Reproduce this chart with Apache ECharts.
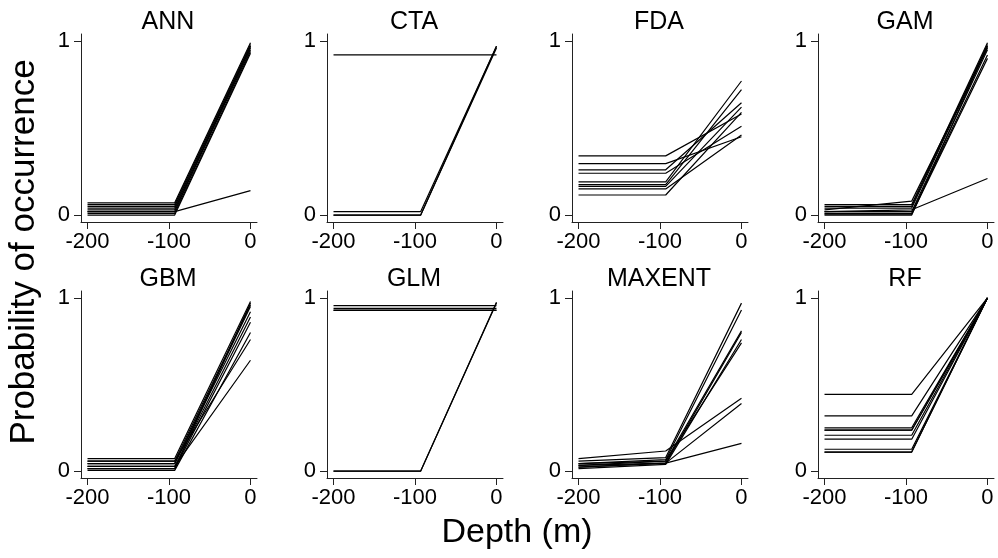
<!DOCTYPE html>
<html>
<head>
<meta charset="utf-8">
<script src="https://cdn.jsdelivr.net/npm/echarts@6/dist/echarts.min.js"></script>
<style>
  html, body { margin: 0; padding: 0; background: #fff; }
  #chart { width: 998px; height: 558px; }
</style>
</head>
<body>
<div id="chart"></div>
<script>
// depth values where each curve is evaluated
var depth = [-200, -93, 0];
var xTicks = [-200, -100, 0];
var yTicks = [0, 1];
var models = ['ANN', 'CTA', 'FDA', 'GAM', 'GBM', 'GLM', 'MAXENT', 'RF'];

// probability at each depth, one row per replicate
var annLines = [
  [0.07, 0.07, 0.99], [0.06, 0.06, 0.98], [0.05, 0.05, 0.97], [0.04, 0.04, 0.96],
  [0.03, 0.03, 0.95], [0.02, 0.02, 0.97], [0.01, 0.01, 0.94], [0.00, 0.00, 0.93],
  [0.02, 0.02, 0.14]
];
var ctaLines = [
  [0.92, 0.92, 0.92], [0.02, 0.02, 0.97], [0.00, 0.00, 0.97], [0.00, 0.00, 0.96]
];
var fdaLines = [
  [0.34, 0.34, 0.58], [0.295, 0.295, 0.45], [0.26, 0.26, 0.645], [0.24, 0.24, 0.51],
  [0.19, 0.19, 0.77], [0.175, 0.175, 0.72], [0.165, 0.165, 0.62], [0.15, 0.15, 0.46],
  [0.115, 0.115, 0.59]
];
var gamLines = [
  [0.06, 0.06, 0.99], [0.05, 0.05, 0.98], [0.04, 0.04, 0.97], [0.03, 0.08, 0.96],
  [0.02, 0.02, 0.95], [0.01, 0.01, 0.92], [0.005, 0.005, 0.90], [0.00, 0.00, 0.97],
  [0.02, 0.03, 0.21]
];
var gbmLines = [
  [0.072, 0.072, 0.98], [0.058, 0.058, 0.96], [0.043, 0.043, 0.92], [0.027, 0.027, 0.89],
  [0.014, 0.014, 0.86], [0.004, 0.004, 0.80], [0.058, 0.058, 0.76], [0.027, 0.027, 0.64],
  [0.043, 0.043, 0.95], [0.014, 0.014, 0.97]
];
var glmLines = [
  [0.955, 0.955, 0.955], [0.94, 0.94, 0.94], [0.93, 0.93, 0.93], [0.928, 0.928, 0.928],
  [0.00, 0.00, 0.975], [0.00, 0.00, 0.97]
];
var maxentLines = [
  [0.072, 0.116, 0.42], [0.058, 0.078, 0.97], [0.043, 0.066, 0.93], [0.033, 0.058, 0.81],
  [0.023, 0.046, 0.80], [0.014, 0.039, 0.76], [0.043, 0.058, 0.74], [0.023, 0.046, 0.39],
  [0.033, 0.046, 0.16]
];
var rfLines = [
  [0.443, 0.443, 1.0], [0.319, 0.319, 1.0], [0.25, 0.25, 1.0], [0.236, 0.236, 1.0],
  [0.236, 0.236, 1.0], [0.207, 0.207, 1.0], [0.184, 0.184, 1.0], [0.126, 0.126, 1.0],
  [0.11, 0.11, 1.0], [0.11, 0.11, 1.0]
];
var panelLines = [annLines, ctaLines, fdaLines, gamLines, gbmLines, glmLines, maxentLines, rfLines];

var FONT = '"Liberation Sans", Arial, Helvetica, sans-serif';
var lefts = [81, 327, 572, 818];
var tops = [34, 291];
var W = 176, H = 188;

var grids = [], xAxes = [], yAxes = [], titles = [], series = [];

models.forEach(function (name, i) {
  var col = i % 4, row = Math.floor(i / 4);
  grids.push({ left: lefts[col], top: tops[row], width: W, height: H - row });

  xAxes.push({
    gridIndex: i, type: 'value', min: -208, max: 8,
    axisLine: { show: true, onZero: false, lineStyle: { color: '#222', width: 1 } },
    axisTick: { show: true, length: 7, customValues: xTicks, lineStyle: { color: '#222' } },
    axisLabel: { customValues: xTicks, color: '#000', fontSize: 22, fontFamily: FONT, margin: 9 },
    splitLine: { show: false }
  });
  yAxes.push({
    gridIndex: i, type: 'value', min: -0.04, max: 1.04,
    axisLine: { show: true, onZero: false, lineStyle: { color: '#222', width: 1 } },
    axisTick: { show: true, length: 7, customValues: yTicks, lineStyle: { color: '#222' } },
    axisLabel: { customValues: yTicks, color: '#000', fontSize: 22, fontFamily: FONT, margin: 11 },
    splitLine: { show: false }
  });

  titles.push({
    text: name, left: lefts[col] + W / 2 - 1, top: tops[row] - 24, textAlign: 'center', padding: 0,
    textStyle: { fontSize: 25, fontWeight: 'normal', color: '#000', fontFamily: FONT }
  });

  panelLines[i].forEach(function (vals) {
    series.push({
      type: 'line', xAxisIndex: i, yAxisIndex: i, symbol: 'none', silent: true,
      lineStyle: { color: '#000', width: 1.2 },
      data: depth.map(function (d, k) { return [d, vals[k]]; })
    });
  });
});

var chart = echarts.init(document.getElementById('chart'));
chart.setOption({
  animation: false,
  backgroundColor: '#fff',
  title: titles,
  grid: grids,
  xAxis: xAxes,
  yAxis: yAxes,
  series: series,
  graphic: [
    {
      type: 'text', x: 517, y: 533,
      style: { text: 'Depth (m)', fontSize: 34, fontFamily: FONT, fill: '#000',
               align: 'center', verticalAlign: 'middle' }
    },
    {
      type: 'text', x: 24, y: 252, rotation: Math.PI / 2,
      style: { text: 'Probability of occurrence', fontSize: 35, fontFamily: FONT, fill: '#000',
               align: 'center', verticalAlign: 'middle' }
    }
  ]
});
</script>
</body>
</html>
